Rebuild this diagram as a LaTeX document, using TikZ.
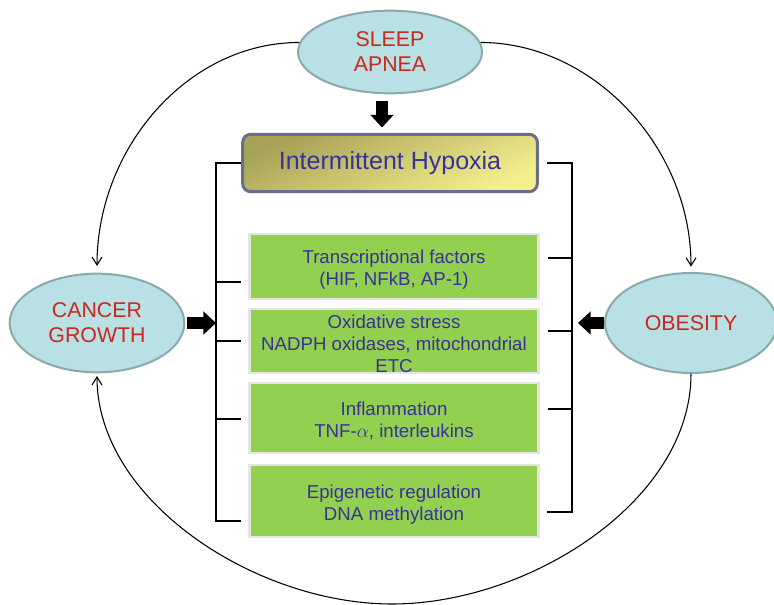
\documentclass[tikz,border=0pt]{standalone}
\usepackage{fontspec}
\setmainfont{Liberation Sans}
\usetikzlibrary{arrows.meta,shapes.geometric}
\definecolor{ovalfill}{HTML}{B9E0E4}
\definecolor{ovaldraw}{HTML}{88AAAD}
\definecolor{ovaltext}{HTML}{C8281E}
\definecolor{boxtext}{HTML}{3B2F9A}
\definecolor{greenfill}{HTML}{92D050}
\definecolor{greendraw}{HTML}{E4E4E4}
\definecolor{hypdark}{HTML}{A6A257}
\definecolor{hyplight}{HTML}{F4F08E}
\definecolor{hypdraw}{HTML}{6A6E8E}
\tikzset{
  oval/.style={ellipse, draw=ovaldraw, fill=ovalfill, line width=1.5pt, text=ovaltext,
    align=center, inner sep=0pt, font=\fontsize{16}{18.75}\selectfont},
  hypoxia/.style={rectangle, rounded corners=6pt, draw=hypdraw, line width=2.25pt,
    top color=hypdark, bottom color=hyplight, shading angle=25, minimum width=221pt,
    minimum height=43pt, text=boxtext, font=\fontsize{18.75}{22}\selectfont},
  factor/.style={rectangle, draw=greendraw, fill=greenfill, line width=2pt, text=boxtext,
    align=center, minimum width=217pt, inner sep=0pt, font=\fontsize{14}{16.5}\selectfont,
    execute at begin node={\rule{0pt}{#1}}},
  factor/.default=31.5pt,
  bracket/.style={line width=1.5pt},
  link/.style={line width=0.8pt, -{Straight Barb[length=6pt,width=7.5pt]}},
  blockarrow/.style={line width=9pt, -{Triangle[length=9.5pt,width=17pt]}},
}
\begin{document}
\begin{tikzpicture}[x=0.75pt,y=-0.75pt]
\useasboundingbox (0,0) rectangle (774,605);
% conditions
\node[oval, minimum width=138pt, minimum height=62pt] (apnea) at (390,52) {SLEEP\\APNEA};
\node[oval, minimum width=131pt, minimum height=74pt] (cancer) at (97,323) {CANCER\\GROWTH};
\node[oval, minimum width=129pt, minimum height=75pt] (obesity) at (691,323) {OBESITY};
% central box
\node[hypoxia] (hyp) at (390,163) {Intermittent Hypoxia};
% mechanisms
\node[factor, minimum height=48.75pt] (transcr) at (394,266.5) {Transcriptional factors\\(HIF, NFkB, AP-1)};
\node[factor=48pt, minimum height=48pt] (oxid) at (394,341) {Oxidative stress\\NADPH oxidases, mitochondrial\\ETC};
\node[factor, minimum height=52.5pt] (inflam) at (394,418) {Inflammation\\TNF-$\alpha$, interleukins};
\node[factor, minimum height=54pt] (epigen) at (394,501) {Epigenetic regulation\\DNA methylation};
% brackets
\coordinate (lbar) at (216,521);
\coordinate (rbar) at (572,512);
\draw[bracket] (hyp.west) -| (lbar) -- ++(25,0);
\foreach \y in {282,341,419}
  \draw[bracket] (216,\y) -- ++(25,0);
\draw[bracket, shorten <=6pt] (hyp.east) -| (rbar) -- ++(-25,0);
\foreach \y in {258,331,409}
  \draw[bracket] (572,\y) -- ++(-24,0);
% thick arrows
\draw[blockarrow] ([xshift=-6pt,yshift=-5.25pt]apnea.south) -- ([xshift=-6pt,yshift=4pt]hyp.north);
\draw[blockarrow, shorten <=1.5pt] (cancer.east) -- (cancer.east -| lbar);
\draw[blockarrow, shorten >=4.5pt] (obesity.west) -- (obesity.west -| rbar);
% links
\draw[link, shorten >=5pt] (apnea.174) .. controls +(-112,0) and +(0,-124) .. (cancer.north);
\draw[link, shorten >=4pt] (apnea.6) .. controls +(112,0) and +(0,-125) .. (obesity.north);
\coordinate (low) at (392,604);
\draw[link, shorten >=2pt] (obesity.south) .. controls +(0,127) and +(137,0) .. (low)
  .. controls +(-137,0) and +(0,127) .. (cancer.south);
\end{tikzpicture}
\end{document}
